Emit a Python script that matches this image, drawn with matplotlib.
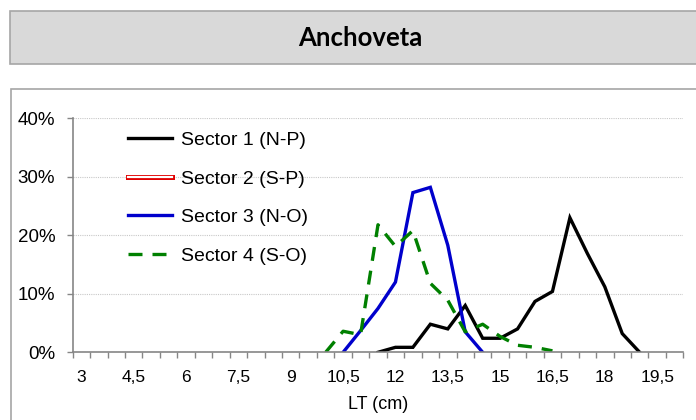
import numpy as np
import matplotlib
matplotlib.use('Agg')
import matplotlib.pyplot as plt
import matplotlib.patheffects as pe
from matplotlib.patches import Rectangle

plt.rcParams['font.family'] = ['Liberation Sans', 'DejaVu Sans']

# category axis: LT (cm) from 3 to 20 every 0,5
categories = [3.0, 3.5, 4.0, 4.5, 5.0, 5.5, 6.0, 6.5, 7.0, 7.5, 8.0, 8.5, 9.0, 9.5,
              10.0, 10.5, 11.0, 11.5, 12.0, 12.5, 13.0, 13.5, 14.0, 14.5, 15.0, 15.5,
              16.0, 16.5, 17.0, 17.5, 18.0, 18.5, 19.0, 19.5, 20.0]
tick_labels = ['3', '4,5', '6', '7,5', '9', '10,5', '12', '13,5', '15', '16,5', '18', '19,5']

# sector 1 (N-P)
s1_len = [11.5, 12, 12.5, 13, 13.5, 14, 14.5, 15, 15.5, 16, 16.5, 17, 17.5, 18, 18.5, 19]
s1_pct = [0, 0.85, 0.85, 4.8, 4.0, 8.0, 2.4, 2.4, 4.0, 8.7, 10.4, 23.0, 16.9, 11.2, 3.2, 0]
# sector 2 (S-P): no catch
s2_len = []
s2_pct = []
# sector 3 (N-O)
s3_len = [10.5, 11, 11.5, 12, 12.5, 13, 13.5, 14, 14.5]
s3_pct = [0, 3.7, 7.5, 12.0, 27.3, 28.2, 18.3, 3.5, 0]
# sector 4 (S-O)
s4_len = [10, 10.5, 11, 11.5, 12, 12.5, 13, 13.5, 14, 14.5, 15, 15.5, 16, 16.5]
s4_pct = [0, 3.6, 3.0, 21.8, 18.1, 20.8, 11.8, 8.9, 3.5, 4.8, 2.7, 1.2, 0.85, 0.25]


def idx(lengths):
    return [categories.index(v) for v in lengths]


fig = plt.figure(figsize=(6.96, 4.2), dpi=100)

# title box and chart frame
fig.patches.append(Rectangle((10 / 696, 1 - 64 / 420), 0.99, 53 / 420, transform=fig.transFigure,
                             facecolor='#D9D9D9', edgecolor='#A6A6A6', lw=1.2, zorder=-2))
fig.patches.append(Rectangle((10.5 / 696, -0.1), 0.99, 1 - 89 / 420 + 0.1, transform=fig.transFigure,
                             facecolor='white', edgecolor='#A6A6A6', lw=1.2, zorder=-2))
fig.text(360 / 696, 1 - 38.5 / 420, 'Anchoveta', ha='center', va='center',
         fontsize=18.5, fontweight='bold', family=['Lato', 'DejaVu Sans'])

ax = fig.add_axes([72.7 / 696, 1 - 352.3 / 420, 610.6 / 696, 234 / 420])
ax.set_zorder(2)
ax.patch.set_alpha(0)

ax.plot(idx(s1_len), s1_pct, color='black', lw=2.4, label='Sector 1 (N-P)', solid_joinstyle='miter')
l2, = ax.plot(idx(s2_len), s2_pct, color='white', lw=1.6, label='Sector 2 (S-P)')
l2.set_path_effects([pe.Stroke(linewidth=3.6, foreground='#E00000'), pe.Normal()])
ax.plot(idx(s3_len), s3_pct, color='#0000CC', lw=2.4, label='Sector 3 (N-O)', solid_joinstyle='miter')
ax.plot(idx(s4_len), s4_pct, color='#008000', lw=2.4, dashes=(4.2, 3.0), label='Sector 4 (S-O)')

ax.set_xlim(-0.5, len(categories) - 0.5)
ax.set_ylim(0, 40)

ax.set_xticks(range(0, len(categories), 3))
ax.set_xticklabels(tick_labels)
ax.set_xticks(np.arange(-0.5, len(categories), 1), minor=True)
ax.tick_params(axis='x', which='major', length=0, pad=12.5, labelsize=12.5)
ax.tick_params(axis='x', which='minor', length=4, width=1, color='#868686', direction='out')

ax.set_yticks([0, 10, 20, 30, 40])
ax.set_yticklabels(['0%', '10%', '20%', '30%', '40%'])
ax.tick_params(axis='y', length=4.5, width=1, color='#868686', pad=8, labelsize=13.5)

for s in ['top', 'right']:
    ax.spines[s].set_visible(False)
for s in ['left', 'bottom']:
    ax.spines[s].set_color('#868686')
    ax.spines[s].set_linewidth(1.2)

ax.yaxis.grid(True, linestyle=(0, (1, 1)), color='#C8C8C8', lw=0.8)
ax.set_axisbelow(True)

ax.set_xlabel('LT (cm)', fontsize=13, labelpad=8)

leg = ax.legend(loc='upper left', bbox_to_anchor=(0.0906, 0.944), frameon=False, fontsize=14,
                borderpad=0, borderaxespad=0, handlelength=2.26, handletextpad=0.45,
                labelspacing=1.08)

fig.savefig('out.png', dpi=100)
